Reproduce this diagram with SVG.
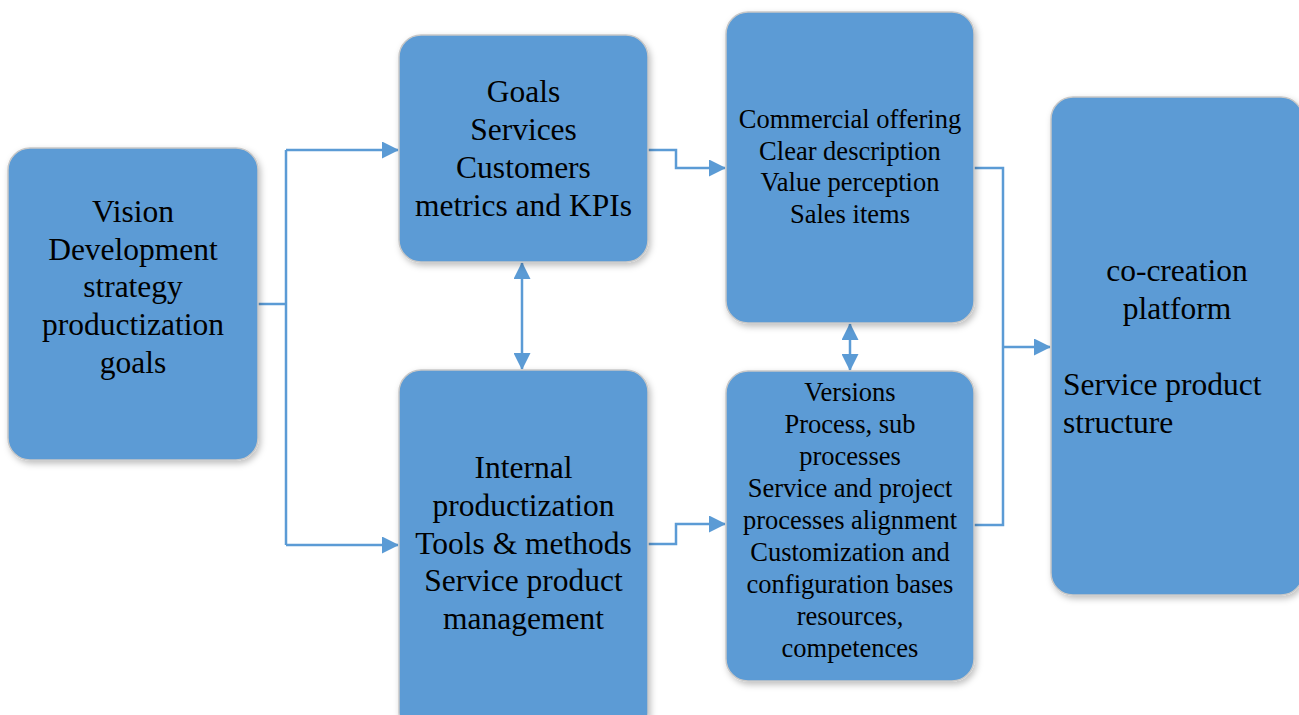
<svg xmlns="http://www.w3.org/2000/svg" width="1299" height="715" viewBox="0 0 1299 715">
<defs>
<style>
.box{fill:#5B9BD5;stroke:#C8C8C8;stroke-width:1.5}
.t{font-family:"Liberation Serif","Times New Roman",serif;fill:#000;text-anchor:middle}
.big{font-size:31.5px}
.small{font-size:26.5px}
.c{fill:none;stroke:#5B9BD5;stroke-width:2.5}
</style>
<filter id="sh" x="-10%" y="-10%" width="130%" height="130%">
<feDropShadow dx="2" dy="3" stdDeviation="3" flood-color="#000" flood-opacity="0.25"/>
</filter>
<marker id="ah" markerUnits="userSpaceOnUse" markerWidth="17" markerHeight="17" refX="16" refY="8.5" orient="auto-start-reverse" viewBox="0 0 17 17">
<path d="M0,0 L17,8.5 L0,17 Z" fill="#5B9BD5"/>
</marker>
</defs>
<rect width="1299" height="715" fill="#fff"/>
<g id="connectors">
<path class="c" d="M258,304 H286 M286,150 V545"/>
<path class="c" d="M286,150 H398" marker-end="url(#ah)"/>
<path class="c" d="M286,545 H398" marker-end="url(#ah)"/>
<path class="c" d="M648,150 H676 V168 H725" marker-end="url(#ah)"/>
<path class="c" d="M648,544 H676 V524 H725" marker-end="url(#ah)"/>
<path class="c" d="M522,263 V369" marker-start="url(#ah)" marker-end="url(#ah)"/>
<path class="c" d="M850,324 V370" marker-start="url(#ah)" marker-end="url(#ah)"/>
<path class="c" d="M974,168 H1003 V525 H974"/>
<path class="c" d="M1003,347 H1050" marker-end="url(#ah)"/>
</g>
<g id="vision">
<rect class="box" x="8" y="148" width="250" height="312" rx="22" filter="url(#sh)"/>
<text class="t big" x="133" y="222">Vision</text>
<text class="t big" x="133" y="259.5">Development</text>
<text class="t big" x="133" y="297">strategy</text>
<text class="t big" x="133" y="335">productization</text>
<text class="t big" x="133" y="373">goals</text>
</g>
<g id="goals">
<rect class="box" x="399" y="35" width="249" height="227" rx="22" filter="url(#sh)"/>
<text class="t big" x="523.5" y="102">Goals</text>
<text class="t big" x="523.5" y="140">Services</text>
<text class="t big" x="523.5" y="178">Customers</text>
<text class="t big" x="523.5" y="215.5">metrics and KPIs</text>
</g>
<g id="internal">
<rect class="box" x="399" y="370" width="249" height="365" rx="22" filter="url(#sh)"/>
<text class="t big" x="523.5" y="478">Internal</text>
<text class="t big" x="523.5" y="516">productization</text>
<text class="t big" x="523.5" y="553.5">Tools &amp; methods</text>
<text class="t big" x="523.5" y="591">Service product</text>
<text class="t big" x="523.5" y="629">management</text>
</g>
<g id="commercial">
<rect class="box" x="726" y="12" width="248" height="311" rx="22" filter="url(#sh)"/>
<text class="t small" x="850" y="128">Commercial offering</text>
<text class="t small" x="850" y="159.5">Clear description</text>
<text class="t small" x="850" y="191">Value perception</text>
<text class="t small" x="850" y="223">Sales items</text>
</g>
<g id="versions">
<rect class="box" x="726" y="371" width="248" height="310" rx="22" filter="url(#sh)"/>
<text class="t small" x="850" y="401">Versions</text>
<text class="t small" x="850" y="433">Process, sub</text>
<text class="t small" x="850" y="464.5">processes</text>
<text class="t small" x="850" y="497">Service and project</text>
<text class="t small" x="850" y="528.5">processes alignment</text>
<text class="t small" x="850" y="561">Customization and</text>
<text class="t small" x="850" y="593">configuration bases</text>
<text class="t small" x="850" y="625">resources,</text>
<text class="t small" x="850" y="657">competences</text>
</g>
<g id="platform">
<rect class="box" x="1051" y="97" width="252" height="498" rx="22" filter="url(#sh)"/>
<text class="t big" x="1177" y="281">co-creation</text>
<text class="t big" x="1177" y="319">platform</text>
<text class="t big" x="1063" y="395" style="text-anchor:start">Service product</text>
<text class="t big" x="1063" y="433" style="text-anchor:start">structure</text>
</g>
</svg>
